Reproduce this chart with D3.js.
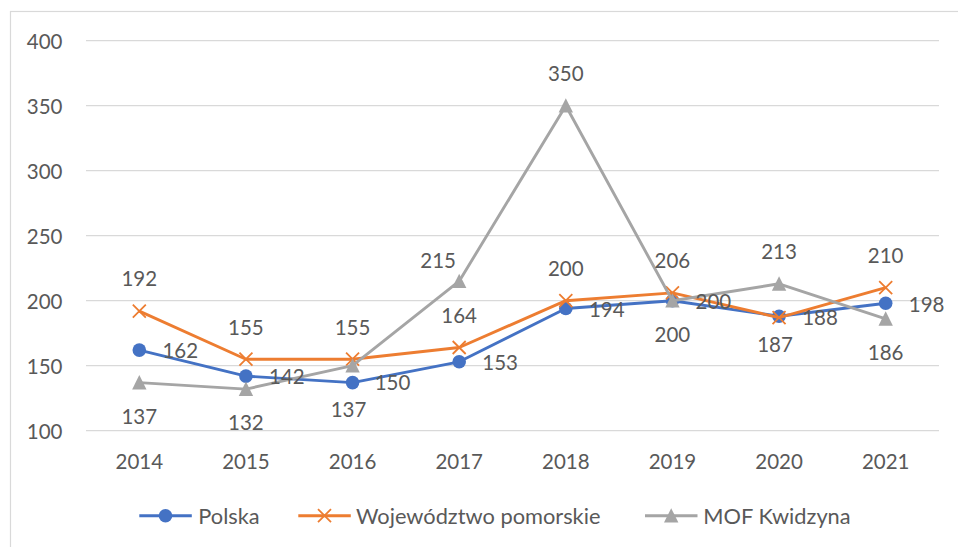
<!DOCTYPE html>
<html>
<head>
<meta charset="utf-8">
<script src="https://cdn.jsdelivr.net/npm/d3@7"></script>
<style>
  html, body { margin: 0; padding: 0; background: #ffffff; }
  svg { display: block; }
  text { font-family: Lato, "Open Sans", sans-serif; fill: #595959; }
</style>
</head>
<body>
<div id="chart"></div>
<script>
// ---- data ----
const categories = ["2014", "2015", "2016", "2017", "2018", "2019", "2020", "2021"];
const polska = [162, 142, 137, 153, 194, 200, 188, 198];
const pomorskie = [192, 155, 155, 164, 200, 206, 187, 210];
const mofKwidzyna = [137, 132, 150, 215, 350, 200, 213, 186];
const yTicks = [100, 150, 200, 250, 300, 350, 400];
const seriesNames = ["Polska", "Województwo pomorskie", "MOF Kwidzyna"];
// data-label placement keys per point
const polskaLabelPos = ["r", "r", "bs", "r", "r", "r", "r", "r"];
const pomorskieLabelPos = ["a", "a", "a", "a", "a", "a", "bs", "a"];
const mofLabelPos = ["b", "b", "rb", "al", "a", "b", "a", "b"];

// ---- layout ----
const W = 958, H = 547;
const margin = { left: 86, right: 19, top: 40.7, bottom: 116.3 };
const colors = ["#4472C4", "#ED7D31", "#A5A5A5"];
const fontSize = 20.5;
const legendFontSize = 21.8;

const svg = d3.select("#chart").append("svg").attr("width", W).attr("height", H);

// chart border
svg.append("rect")
  .attr("x", 10.5).attr("y", 11.5)
  .attr("width", 960).attr("height", 560)
  .attr("fill", "none").attr("stroke", "#D9D9D9").attr("stroke-width", 1.2);

const x = d3.scaleBand().domain(categories).range([margin.left, W - margin.right]);
const y = d3.scaleLinear().domain([100, 400]).range([H - margin.bottom, margin.top]);
const cx = c => x(c) + x.bandwidth() / 2;

// gridlines
svg.append("g").selectAll("line").data(yTicks).join("line")
  .attr("x1", margin.left).attr("x2", W - margin.right)
  .attr("y1", d => y(d)).attr("y2", d => y(d))
  .attr("stroke", "#D9D9D9").attr("stroke-width", 1.3);

// y axis labels
const yAxis = d3.axisLeft(y).tickValues(yTicks).tickSize(0).tickPadding(0);
const gy = svg.append("g").attr("transform", `translate(${margin.left - 23.5},0)`).call(yAxis);
gy.select(".domain").remove();
gy.selectAll("text").attr("font-size", fontSize).attr("fill", "#595959")
  .attr("font-family", "Lato").attr("dy", "0.36em");

// x axis labels
const xAxis = d3.axisBottom(x).tickSize(0).tickPadding(0);
const gx = svg.append("g").attr("transform", `translate(0,${H - margin.bottom + 31})`).call(xAxis);
gx.select(".domain").remove();
gx.selectAll("text").attr("font-size", fontSize).attr("fill", "#595959")
  .attr("font-family", "Lato").attr("dy", "0.36em");

const series = [
  { name: seriesNames[0], values: polska, pos: polskaLabelPos, marker: "circle" },
  { name: seriesNames[1], values: pomorskie, pos: pomorskieLabelPos, marker: "x" },
  { name: seriesNames[2], values: mofKwidzyna, pos: mofLabelPos, marker: "triangle" }
];

const line = d3.line().x((d, i) => cx(categories[i])).y(d => y(d));

function drawMarker(g, type, color, px, py) {
  if (type === "circle") {
    g.append("circle").attr("cx", px).attr("cy", py).attr("r", 6.8).attr("fill", color);
  } else if (type === "x") {
    const s = 6.5;
    g.append("path")
      .attr("d", `M${px - s},${py - s}L${px + s},${py + s}M${px - s},${py + s}L${px + s},${py - s}`)
      .attr("stroke", color).attr("stroke-width", 1.8).attr("fill", "none");
  } else {
    const s = 7.2;
    g.append("path")
      .attr("d", `M${px},${py - s * 1.05}L${px + s},${py + s * 0.95}L${px - s},${py + s * 0.95}Z`)
      .attr("fill", color);
  }
}

series.forEach((s, si) => {
  const g = svg.append("g");
  g.append("path").datum(s.values).attr("d", line)
    .attr("fill", "none").attr("stroke", colors[si]).attr("stroke-width", 2.9)
    .attr("stroke-linejoin", "round");
  s.values.forEach((v, i) => drawMarker(g, s.marker, colors[si], cx(categories[i]), y(v)));
});

// data labels
const offsets = { r: [41, 1], a: [0, -32], b: [0, 34], bs: [-4, 27], rb: [40, 17], al: [-21, -21] };
const labelsG = svg.append("g");
series.forEach((s, si) => {
  s.values.forEach((v, i) => {
    const o = offsets[s.pos[i]];
    labelsG.append("text")
      .attr("x", cx(categories[i]) + o[0])
      .attr("y", y(v) + o[1])
      .attr("dy", "0.36em")
      .attr("text-anchor", "middle")
      .attr("font-size", fontSize)
      .text(v);
  });
});

// legend
const legendY = 515.7;
const legendItems = [
  { x0: 139.3, textX: 198.3 },
  { x0: 298.3, textX: 356 },
  { x0: 645, textX: 703.3 }
];
const lg = svg.append("g");
series.forEach((s, si) => {
  const it = legendItems[si];
  lg.append("line").attr("x1", it.x0).attr("x2", it.x0 + 52.5)
    .attr("y1", legendY).attr("y2", legendY)
    .attr("stroke", colors[si]).attr("stroke-width", 2.9);
  drawMarker(lg, s.marker, colors[si], it.x0 + 26.2, legendY);
  lg.append("text").attr("x", it.textX).attr("y", legendY).attr("dy", "0.36em")
    .attr("font-size", legendFontSize).text(s.name);
});
</script>
</body>
</html>
